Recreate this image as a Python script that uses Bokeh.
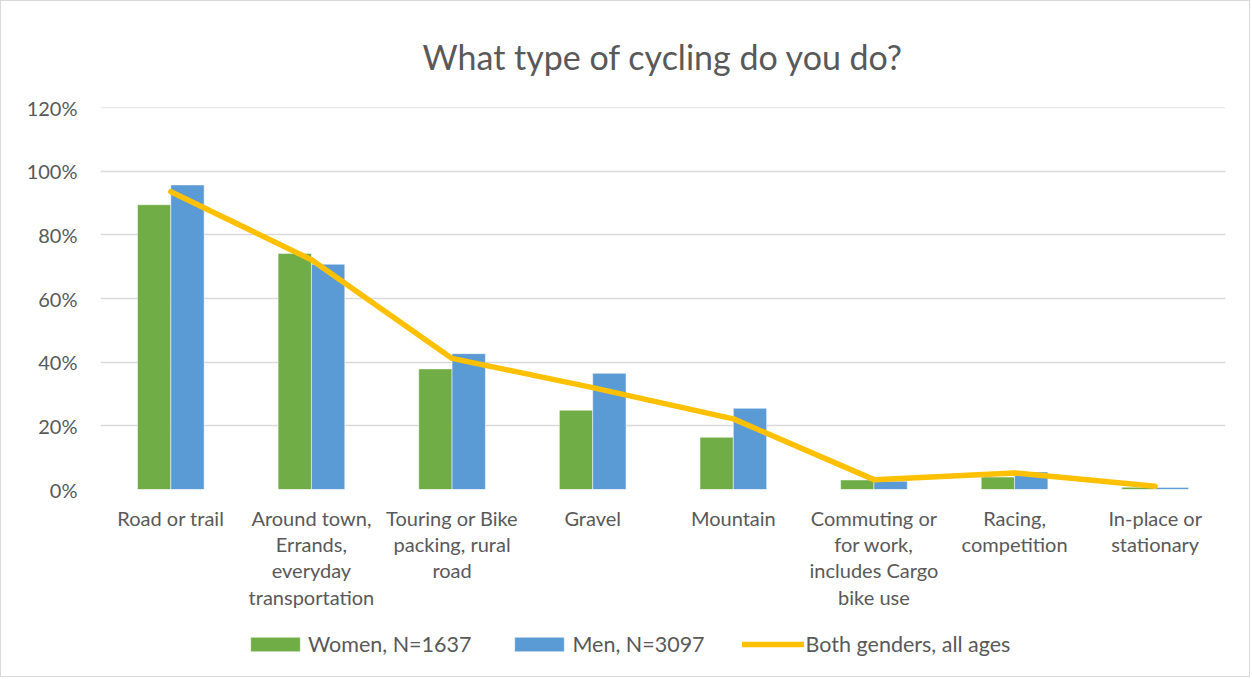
from bokeh.plotting import figure
from bokeh.layouts import column
from bokeh.models import ColumnDataSource, FactorRange, Range1d, NumeralTickFormatter, Legend, LegendItem, Title, FixedTicker
from bokeh.transform import dodge
from bokeh.embed import file_html
from bokeh.resources import INLINE

categories = ["Road or trail", "Around town,\nErrands,\neveryday\ntransportation",
              "Touring or Bike\npacking, rural\nroad", "Gravel", "Mountain",
              "Commuting or\nfor work,\nincludes Cargo\nbike use", "Racing,\ncompetition",
              "In-place or\nstationary"]
women = [0.895, 0.742, 0.379, 0.249, 0.164, 0.030, 0.039, 0.007]
men = [0.957, 0.708, 0.427, 0.365, 0.255, 0.026, 0.055, 0.006]
both = [0.936, 0.722, 0.412, 0.320, 0.222, 0.031, 0.052, 0.010]
y_ticks = [0, 0.2, 0.4, 0.6, 0.8, 1.0, 1.2]
series_labels = ["Women, N=1637", "Men, N=3097", "Both genders, all ages"]

FONT = "Lato"
TXT = "#595959"
GREEN, BLUE, GOLD = "#70AD47", "#5B9BD5", "#FFC000"
src = ColumnDataSource(dict(cat=categories, women=women, men=men, both=both))

p = figure(width=1248, height=627, x_range=FactorRange(*categories), y_range=Range1d(0, 1.2005),
           output_backend="svg", toolbar_location=None,
           min_border_left=99, min_border_right=24, min_border_bottom=139, min_border_top=106)
p.outline_line_color = None

t = Title(text="What type of cycling do you do?", align="center", text_font=FONT,
          text_font_size="34px", text_font_style="normal", text_color=TXT, standoff=61)
p.add_layout(t, "above")

bw = 0.237
p.vbar(x=dodge("cat", -bw / 2, range=p.x_range), top="women", width=bw, source=src,
       color=GREEN, line_color="white", line_width=0.5)
p.vbar(x=dodge("cat", bw / 2, range=p.x_range), top="men", width=bw, source=src,
       color=BLUE, line_color="white", line_width=0.5)
p.line(x="cat", y="both", source=src, color=GOLD, line_width=5.5, line_cap="round", line_join="round")

p.yaxis.ticker = FixedTicker(ticks=y_ticks)
p.yaxis.formatter = NumeralTickFormatter(format="0%")
p.ygrid.grid_line_color = "#D9D9D9"
p.ygrid.grid_line_width = 1.5
p.xgrid.grid_line_color = None
for ax in (p.xaxis[0], p.yaxis[0]):
    ax.axis_line_color = None
    ax.major_tick_line_color = None
    ax.minor_tick_line_color = None
    ax.major_label_text_font = FONT
    ax.major_label_text_font_size = "20px"
    ax.major_label_text_color = TXT
p.yaxis.major_label_standoff = 17
p.xaxis.major_label_standoff = 10
p.xaxis.major_label_text_line_height = 1.1

# legend strip (swatch renderers sit outside the visible range)
p2 = figure(width=1248, height=48, x_range=Range1d(0, 1), y_range=Range1d(0, 1),
            output_backend="svg", toolbar_location=None,
            min_border_left=0, min_border_right=0, min_border_top=0, min_border_bottom=0)
p2.axis.visible = False
p2.grid.visible = False
p2.outline_line_color = None
g1 = p2.vbar(x=[-10], top=[-10], width=0.1, color=GREEN, line_color="white", line_width=0.5)
g2 = p2.vbar(x=[-10], top=[-10], width=0.1, color=BLUE, line_color="white", line_width=0.5)
g3 = p2.line(x=[-10, -9], y=[-10, -10], color=GOLD, line_width=5.5, line_cap="round")
legend = Legend(items=[LegendItem(label=series_labels[0], renderers=[g1]),
                       LegendItem(label=series_labels[1], renderers=[g2]),
                       LegendItem(label=series_labels[2], renderers=[g3])],
                orientation="horizontal", location=(144, 19),
                glyph_width=62, glyph_height=18, label_standoff=2, spacing=37,
                label_text_font=FONT, label_text_font_size="21.5px", label_text_color=TXT,
                background_fill_alpha=0, border_line_color=None, margin=0)
p2.add_layout(legend, "center")

layout = column(p, p2, spacing=0)
layout.styles = {"border": "1px solid #d9d9d9"}

open("out.html", "w").write(file_html(layout, INLINE))
